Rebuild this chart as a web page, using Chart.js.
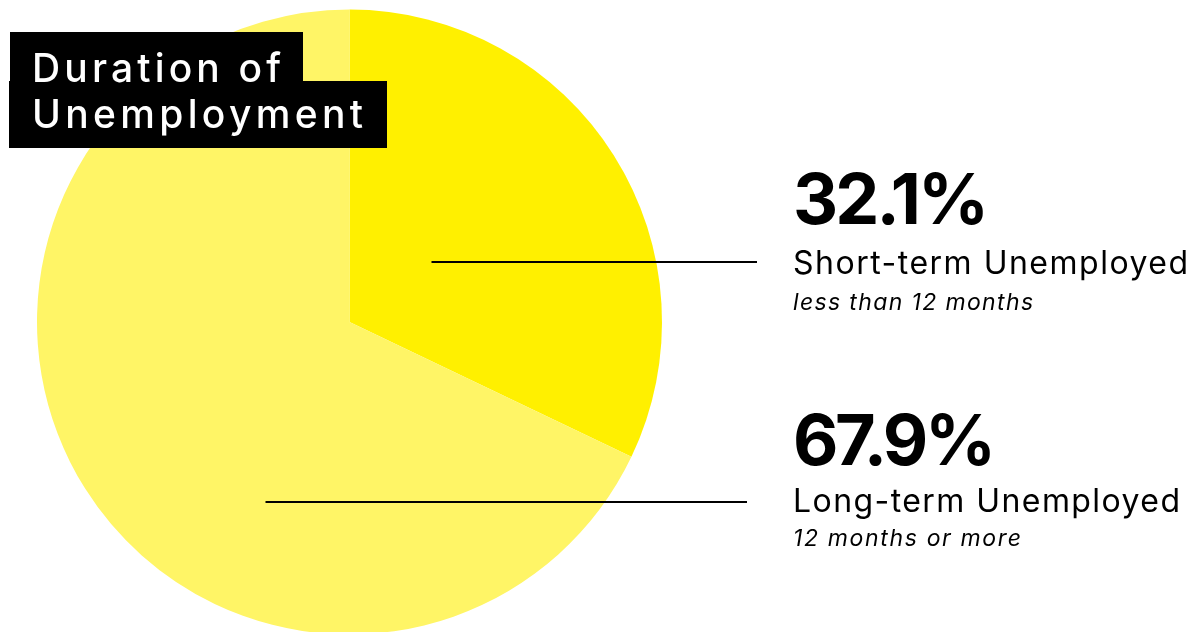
<!DOCTYPE html>
<html>
<head>
<meta charset="utf-8">
<script src="https://cdn.jsdelivr.net/npm/chart.js@4"></script>
<style>
html,body{margin:0;padding:0;background:#fff;overflow:hidden;width:1200px;height:632px;}
#wrap{position:relative;width:1200px;height:650px;}
</style>
</head>
<body>
<div id="wrap"><canvas id="c" width="1200" height="650"></canvas></div>
<script>
const categories = ["Short-term Unemployed", "Long-term Unemployed"];
const subLabels = ["less than 12 months", "12 months or more"];
const values = [32.1, 67.9];
const valueLabels = ["32.1%", "67.9%"];
const titleLines = ["Duration of", "Unemployment"];
const colors = ["#FFF000", "#FFF566"];

function fitText(ctx, text, x, y, target) {
  ctx.letterSpacing = "0px";
  const w = ctx.measureText(text).width;
  const n = Math.max(text.length - 1, 1);
  const ls = (target - w) / n;
  ctx.letterSpacing = ls.toFixed(2) + "px";
  ctx.fillText(text, x, y);
  ctx.letterSpacing = "0px";
}

const annot = {
  id: "annot",
  afterDraw(chart) {
    const ctx = chart.ctx;
    const meta = chart.getDatasetMeta(0);
    const cx = meta.data[0].x, cy = meta.data[0].y;
    ctx.save();
    // title boxes
    ctx.fillStyle = "#000";
    ctx.fillRect(10, 32, 293, 50);
    ctx.fillRect(9, 81, 378, 67);
    ctx.fillStyle = "#fff";
    ctx.textBaseline = "alphabetic";
    ctx.font = "500 39px Inter";
    fitText(ctx, titleLines[0], 32, 82, 249);
    fitText(ctx, titleLines[1], 32, 128, 331);

    // leader lines
    ctx.strokeStyle = "#000";
    ctx.lineWidth = 2;
    const lines = [[cx + 82, 262, 757], [cx - 84, 502, 747]];
    lines.forEach(l => {
      ctx.beginPath();
      ctx.moveTo(l[0], l[1]);
      ctx.lineTo(l[2], l[1]);
      ctx.stroke();
    });

    // labels
    const pctY = [224, 465], catY = [274, 512], subY = [310, 546];
    ctx.fillStyle = "#000";
    for (let i = 0; i < values.length; i++) {
      ctx.font = "bold 70px Inter";
      fitText(ctx, valueLabels[i], 793, pctY[i], i === 0 ? 196 : 203);
      ctx.font = "32px Inter";
      fitText(ctx, categories[i], 793, catY[i], i === 0 ? 395 : 387);
      ctx.font = "italic 23px Inter";
      fitText(ctx, subLabels[i], 793, subY[i], i === 0 ? 240 : 228);
    }
    ctx.restore();
  }
};

new Chart(document.getElementById("c"), {
  type: "pie",
  data: {
    labels: categories,
    datasets: [{
      data: values,
      backgroundColor: colors,
      borderWidth: 0,
      hoverOffset: 0
    }]
  },
  options: {
    responsive: false,
    animation: false,
    layout: { padding: { left: 37, right: 538, top: 9.5, bottom: 15.5 } },
    plugins: { legend: { display: false }, tooltip: { enabled: false }, title: { display: false } },
    events: []
  },
  plugins: [annot]
});
</script>
</body>
</html>
